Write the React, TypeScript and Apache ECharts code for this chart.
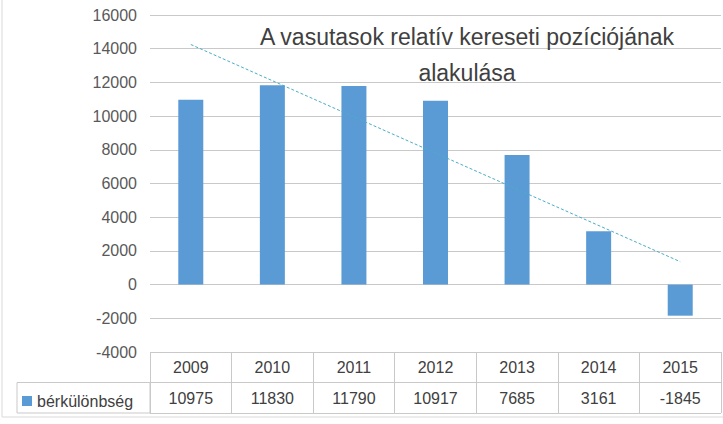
import { useEffect, useRef } from "react";
import * as echarts from "echarts";

const years = ["2009", "2010", "2011", "2012", "2013", "2014", "2015"];
const wageGap = [10975, 11830, 11790, 10917, 7685, 3161, -1845];
// linear trend: start (2009) and end (2015)
const trendValues = [14250, null, null, null, null, null, 1360];
const yTicks = { min: -4000, max: 16000, step: 2000 };

const seriesName = "bérkülönbség";
const font = "'Liberation Sans', Arial, sans-serif";
const gridColor = "#c9c9c9";
const labelColor = "#595959";

export default function App() {
  const chartRef = useRef<HTMLDivElement | null>(null);

  useEffect(() => {
    if (!chartRef.current) {
      return;
    }
    const chart = echarts.init(chartRef.current, null, { renderer: "svg" });

    chart.setOption({
      animation: false,
      backgroundColor: "#ffffff",
      textStyle: { fontFamily: font },
      title: {
        text: "A vasutasok relatív kereseti pozíciójának\nalakulása",
        left: 462,
        top: 14,
        textAlign: "center",
        textStyle: {
          fontFamily: font,
          fontSize: 23,
          lineHeight: 36,
          fontWeight: "normal",
          color: "#404040",
        },
      },
      legend: {
        data: [seriesName],
        left: 22,
        top: 393,
        padding: 0,
        icon: "rect",
        itemWidth: 10,
        itemHeight: 10,
        itemGap: 5,
        textStyle: { fontFamily: font, fontSize: 16, color: "#404040" },
      },
      grid: [
        { left: 150, right: 2, top: 15, bottom: 72 },
        { left: 150, right: 2, top: 352, bottom: 11 },
      ],
      xAxis: [
        {
          type: "category",
          gridIndex: 0,
          data: years,
          show: false,
        },
        {
          type: "category",
          gridIndex: 1,
          data: years,
          position: "top",
          axisLine: { show: false },
          axisTick: { show: false },
          axisLabel: {
            inside: true,
            margin: 7,
            interval: 0,
            color: "#404040",
            fontSize: 16,
            fontFamily: font,
          },
          splitLine: { show: true, interval: 0, lineStyle: { color: gridColor } },
        },
        {
          type: "category",
          gridIndex: 1,
          data: wageGap.map((v) => String(v)),
          position: "bottom",
          axisLine: { show: false },
          axisTick: { show: false },
          axisLabel: {
            inside: true,
            margin: 7,
            interval: 0,
            color: "#404040",
            fontSize: 16,
            fontFamily: font,
          },
          splitLine: { show: false },
        },
      ],
      yAxis: [
        {
          type: "value",
          gridIndex: 0,
          min: yTicks.min,
          max: yTicks.max,
          interval: yTicks.step,
          axisLine: { show: false },
          axisTick: { show: false },
          axisLabel: {
            color: labelColor,
            fontSize: 16,
            margin: 13,
            fontFamily: font,
            formatter: (v: number) => String(v),
          },
          splitLine: { lineStyle: { color: gridColor } },
        },
        {
          type: "value",
          gridIndex: 1,
          min: 0,
          max: 2,
          interval: 1,
          axisLine: { show: false },
          axisTick: { show: false },
          axisLabel: { show: false },
          splitLine: { show: true, lineStyle: { color: gridColor } },
        },
      ],
      series: [
        {
          name: seriesName,
          type: "bar",
          xAxisIndex: 0,
          yAxisIndex: 0,
          data: wageGap,
          barWidth: 25,
          itemStyle: { color: "#5b9bd5" },
        },
        {
          name: "trend",
          type: "line",
          xAxisIndex: 0,
          yAxisIndex: 0,
          data: trendValues,
          connectNulls: true,
          symbol: "none",
          lineStyle: { color: "#4bacc6", width: 1, type: [3, 2] },
        },
      ],
      graphic: [
        {
          type: "rect",
          shape: { x: 17, y: 382.5, width: 133, height: 30.5 },
          style: { fill: "none", stroke: gridColor, lineWidth: 1 },
        },
        {
          type: "rect",
          shape: { x: 2, y: -2, width: 730, height: 419 },
          style: { fill: "none", stroke: "#d9d9d9", lineWidth: 1 },
        },
      ],
    });

    return () => {
      chart.dispose();
    };
  }, []);

  return (
    <div
      ref={chartRef}
      style={{ position: "absolute", left: 0, top: 0, width: 723, height: 424 }}
    />
  );
}
